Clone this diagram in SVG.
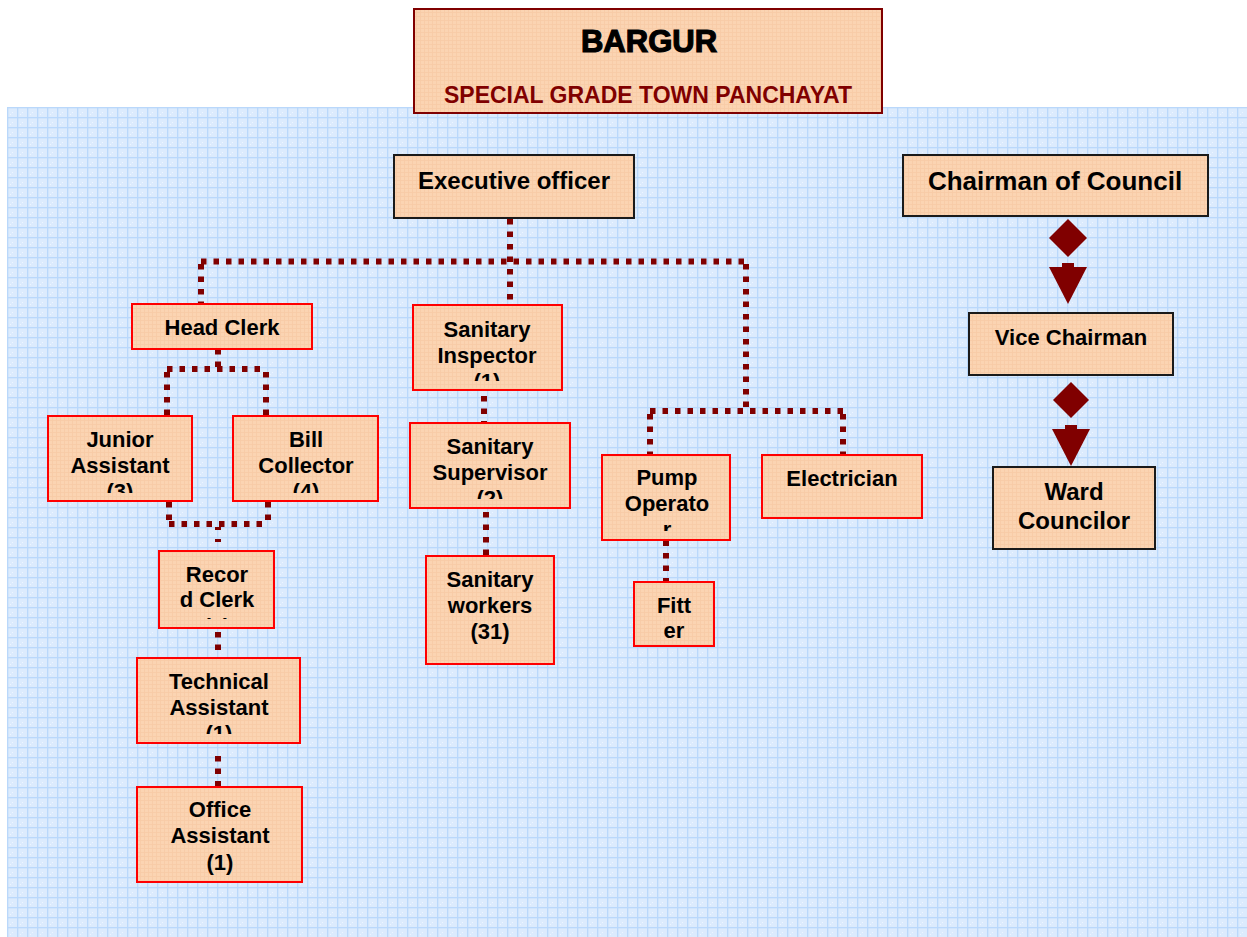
<svg xmlns="http://www.w3.org/2000/svg" width="1247" height="937" viewBox="0 0 1247 937">
<defs>
<pattern id="bg" x="7" y="107" width="10" height="10" patternUnits="userSpaceOnUse">
<rect width="10" height="10" fill="#dcebfd"/>
<rect x="0" y="0" width="10" height="1.3" fill="#bad8fb"/>
<rect x="0" y="0" width="1.3" height="10" fill="#bad8fb"/>
<rect x="5" y="5" width="1" height="1" fill="#eef5ff"/>
<rect x="3" y="7" width="1" height="1" fill="#eef5ff"/>
</pattern>
<pattern id="pg" x="0" y="0" width="4" height="4" patternUnits="userSpaceOnUse">
<rect width="4" height="4" fill="#fbd4b2"/>
<rect width="4" height="0.8" fill="#f8cba6"/>
<rect width="0.8" height="4" fill="#f8cba6"/>
</pattern>
<clipPath id="cJA"><rect x="48" y="416" width="144" height="77"/></clipPath>
<clipPath id="cBC"><rect x="233" y="416" width="145" height="77"/></clipPath>
<clipPath id="cSI"><rect x="413" y="305" width="149" height="76"/></clipPath>
<clipPath id="cSS"><rect x="409" y="423" width="162" height="76"/></clipPath>
<clipPath id="cPO"><rect x="602" y="454" width="128" height="77"/></clipPath>
<clipPath id="cRC"><rect x="159" y="551" width="116" height="68"/></clipPath>
<clipPath id="cTA"><rect x="137" y="658" width="164" height="76"/></clipPath>
</defs>
<style>
.rb{fill:url(#pg);stroke:#ff0000;stroke-width:2}
.bb{fill:url(#pg);stroke:#1a1a1a;stroke-width:2}
.t{font-family:"Liberation Sans",Arial,sans-serif;font-weight:bold;font-size:22px;fill:#000;text-anchor:middle}
.cn{fill:none;stroke:#800000;stroke-width:6;stroke-dasharray:5.5 7}
.ar{fill:#800000}
</style>
<rect x="0" y="0" width="1247" height="937" fill="#ffffff"/>
<rect x="7" y="107" width="1240" height="830" fill="url(#bg)"/>

<g id="title">
<rect x="414" y="9" width="468" height="104" fill="url(#pg)" stroke="#800000" stroke-width="2"/>
<text x="649" y="52" class="t" style="font-size:31px;stroke:#000;stroke-width:1.2">BARGUR</text>
<text x="648" y="103" class="t" style="font-size:23px;fill:#800000">SPECIAL GRADE TOWN PANCHAYAT</text>
</g>

<g id="connectors">
<path class="cn" d="M510 219 V305"/>
<path class="cn" d="M201 261.5 H746"/>
<path class="cn" d="M201 264 V304"/>
<path class="cn" d="M746 264 V411"/>
<path class="cn" d="M650 411 H843"/>
<path class="cn" d="M650 414 V454"/>
<path class="cn" d="M843 414 V454"/>
<path class="cn" d="M218 349 V369"/>
<path class="cn" d="M167 369 H266"/>
<path class="cn" d="M167 372 V416"/>
<path class="cn" d="M266 372 V416"/>
<path class="cn" d="M169 502 V524"/>
<path class="cn" d="M268 502 V524"/>
<path class="cn" d="M169 524 H268"/>
<path class="cn" d="M218 527 V551" style="stroke-dasharray:3 9"/>
<path class="cn" d="M218 632 V658"/>
<path class="cn" d="M218 756 V787"/>
<path class="cn" d="M484 396 V423"/>
<path class="cn" d="M486 512 V556"/>
<path class="cn" d="M666 528 V582"/>
<polygon class="ar" points="1068,219 1087,238 1068,257 1049,238"/>
<rect class="ar" x="1062" y="263" width="12" height="5"/>
<polygon class="ar" points="1049,267 1087,267 1068,304"/>
<polygon class="ar" points="1071,382 1089,400 1071,418 1053,400"/>
<rect class="ar" x="1065" y="425" width="12" height="5"/>
<polygon class="ar" points="1052,429 1090,429 1071,466"/>
</g>

<g id="executive-officer">
<rect class="bb" x="394" y="155" width="240" height="63"/>
<text class="t" x="514" y="189" style="font-size:24px">Executive officer</text>
</g>
<g id="chairman">
<rect class="bb" x="903" y="155" width="305" height="61"/>
<text class="t" x="1055" y="190" style="font-size:26px">Chairman of Council</text>
</g>
<g id="vice-chairman">
<rect class="bb" x="969" y="313" width="204" height="62"/>
<text class="t" x="1071" y="345">Vice Chairman</text>
</g>
<g id="ward-councilor">
<rect class="bb" x="993" y="467" width="162" height="82"/>
<text class="t" x="1074" y="500" style="font-size:24px">Ward</text>
<text class="t" x="1074" y="529" style="font-size:24px">Councilor</text>
</g>

<g id="head-clerk">
<rect class="rb" x="132" y="304" width="180" height="45"/>
<text class="t" x="222" y="335">Head Clerk</text>
</g>
<g id="sanitary-inspector">
<rect class="rb" x="413" y="305" width="149" height="85"/>
<g clip-path="url(#cSI)">
<text class="t" x="487" y="337">Sanitary</text>
<text class="t" x="487" y="363">Inspector</text>
<text class="t" x="487" y="389">(1)</text>
</g>
</g>
<g id="junior-assistant">
<rect class="rb" x="48" y="416" width="144" height="85"/>
<g clip-path="url(#cJA)">
<text class="t" x="120" y="447">Junior</text>
<text class="t" x="120" y="473">Assistant</text>
<text class="t" x="120" y="499">(3)</text>
</g>
</g>
<g id="bill-collector">
<rect class="rb" x="233" y="416" width="145" height="85"/>
<g clip-path="url(#cBC)">
<text class="t" x="306" y="447">Bill</text>
<text class="t" x="306" y="473">Collector</text>
<text class="t" x="306" y="499">(4)</text>
</g>
</g>
<g id="sanitary-supervisor">
<rect class="rb" x="410" y="423" width="160" height="85"/>
<g clip-path="url(#cSS)">
<text class="t" x="490" y="454">Sanitary</text>
<text class="t" x="490" y="480">Supervisor</text>
<text class="t" x="490" y="506">(2)</text>
</g>
</g>
<g id="pump-operator">
<rect class="rb" x="602" y="455" width="128" height="85"/>
<g clip-path="url(#cPO)">
<text class="t" x="667" y="485">Pump</text>
<text class="t" x="667" y="511">Operato</text>
<text class="t" x="667" y="537">r</text>
</g>
</g>
<g id="electrician">
<rect class="rb" x="762" y="455" width="160" height="63"/>
<text class="t" x="842" y="486">Electrician</text>
</g>
<g id="record-clerk">
<rect class="rb" x="159" y="551" width="115" height="77"/>
<g clip-path="url(#cRC)">
<text class="t" x="217" y="582">Recor</text>
<text class="t" x="217" y="607">d Clerk</text>
<text class="t" x="217" y="634">(1)</text>
</g>
</g>
<g id="fitter">
<rect class="rb" x="634" y="582" width="80" height="64"/>
<text class="t" x="674" y="613">Fitt</text>
<text class="t" x="674" y="638">er</text>
</g>
<g id="sanitary-workers">
<rect class="rb" x="426" y="556" width="128" height="108"/>
<text class="t" x="490" y="587">Sanitary</text>
<text class="t" x="490" y="613">workers</text>
<text class="t" x="490" y="639">(31)</text>
</g>
<g id="technical-assistant">
<rect class="rb" x="137" y="658" width="163" height="85"/>
<g clip-path="url(#cTA)">
<text class="t" x="219" y="689">Technical</text>
<text class="t" x="219" y="715">Assistant</text>
<text class="t" x="219" y="741">(1)</text>
</g>
</g>
<g id="office-assistant">
<rect class="rb" x="137" y="787" width="165" height="95"/>
<text class="t" x="220" y="817">Office</text>
<text class="t" x="220" y="843">Assistant</text>
<text class="t" x="220" y="870">(1)</text>
</g>
</svg>
